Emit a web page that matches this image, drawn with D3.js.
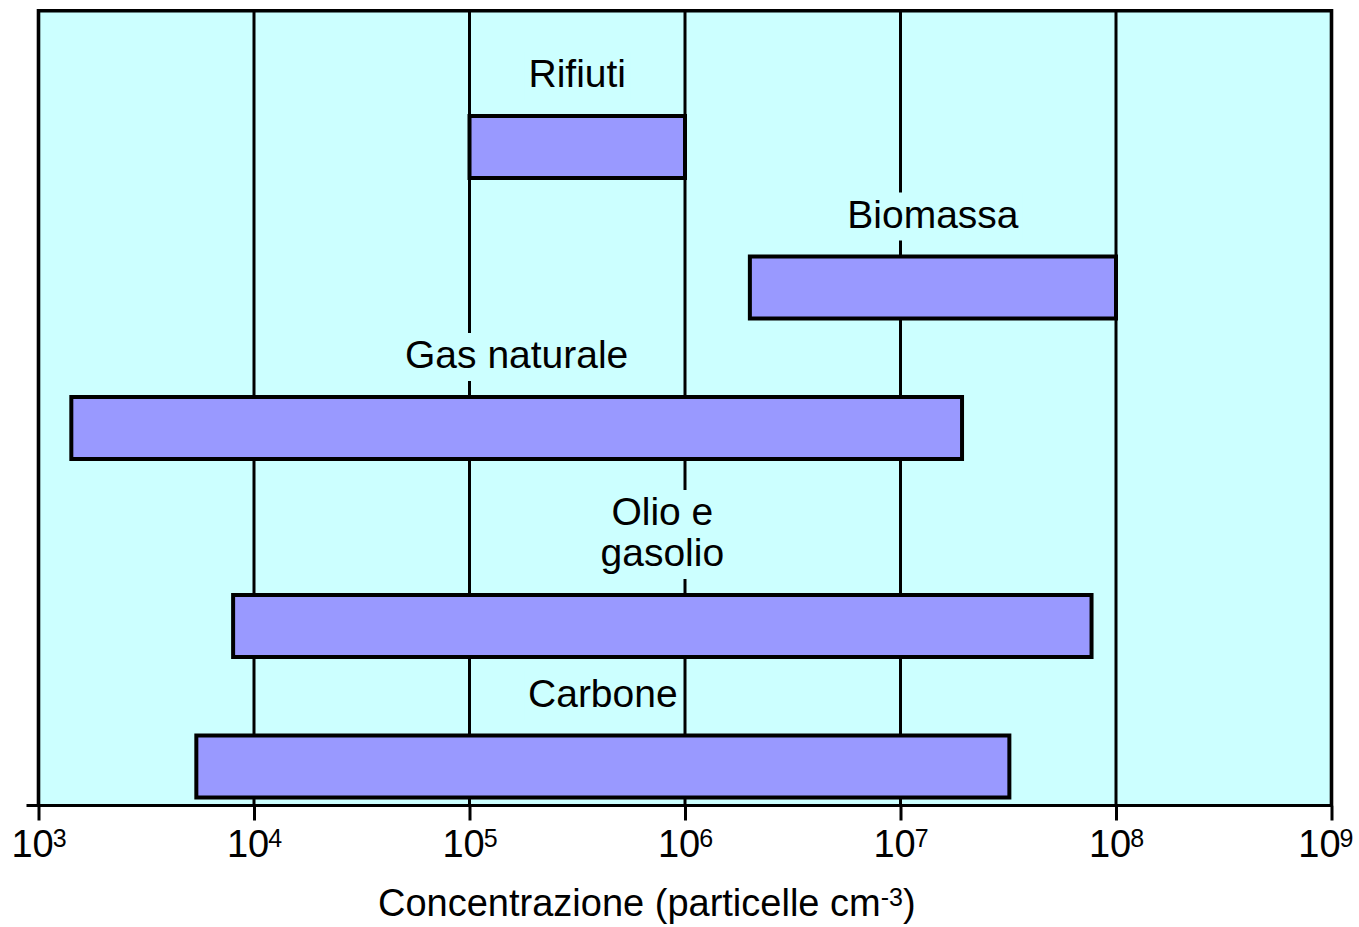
<!doctype html>
<html>

<head>
    <meta charset="utf-8">
    <title>Concentrazione particelle</title>
    <script type="text/javascript" src="https://cdn.jsdelivr.net/npm/d3@7/dist/d3.min.js"></script>
    <style type="text/css">
        html,
        body {
            margin: 0;
            padding: 0;
            background: #ffffff;
        }

        #chart svg {
            display: block;
            font-family: "Liberation Sans", Arial, sans-serif;
        }
    </style>
</head>

<body>
    <div id="chart"></div>

    <script type="text/javascript">
        // data (particles per cm3)
        var categories = ["Rifiuti", "Biomassa", "Gas naturale", "Olio e\ngasolio", "Carbone"]
        var rangeMin = [1e5, 2.0e6, 1.42e3, 8.0e3, 5.4e3]
        var rangeMax = [1e6, 1e8, 1.93e7, 7.7e7, 3.2e7]
        var tickExponents = [3, 4, 5, 6, 7, 8, 9]
        var axisTitle = "Concentrazione (particelle cm"
        var axisTitleSup = "-3"

        var width = 1359,
            height = 927
        var plot = { left: 38.5, right: 1331.5, top: 10.8, bottom: 805.5 }

        var svg = d3.select("#chart")
            .append("svg")
            .attr("width", width)
            .attr("height", height)

        var x = d3.scaleLog()
            .domain([Math.pow(10, tickExponents[0]), Math.pow(10, tickExponents[tickExponents.length - 1])])
            .range([plot.left, plot.right])

        // rows: bars stack from the top, a row with a taller label gets more room
        var barH = 62
        var acc = 116
        var rows = categories.map(function (c, i) {
            var lines = c.split("\n")
            if (i > 0) acc += 83 + 57.5 * lines.length
            return { name: c, lines: lines, lo: rangeMin[i], hi: rangeMax[i], top: acc }
        })

        // plot background
        svg.append("rect")
            .attr("x", plot.left)
            .attr("y", plot.top)
            .attr("width", plot.right - plot.left)
            .attr("height", plot.bottom - plot.top)
            .style("fill", "#ccffff")

        // vertical grid lines at each decade
        svg.append("g")
            .selectAll("line")
            .data(tickExponents.slice(1, -1))
            .join("line")
            .attr("x1", function (d) { return x(Math.pow(10, d)) })
            .attr("x2", function (d) { return x(Math.pow(10, d)) })
            .attr("y1", plot.top)
            .attr("y2", plot.bottom)
            .style("stroke", "#000")
            .style("stroke-width", 3)

        // labels with a background that hides the grid lines
        var labels = svg.append("g")
            .selectAll("g")
            .data(rows)
            .join("g")

        labels.each(function (d) {
            var g = d3.select(this)
            var cx = (x(d.lo) + x(d.hi)) / 2
            var lastBase = d.top - 2 - 27
            var bg = g.append("rect").style("fill", "#ccffff")
            var t = g.append("text")
                .attr("text-anchor", "middle")
                .style("font-size", "39px")
                .style("fill", "#000")
            d.lines.forEach(function (line, k) {
                t.append("tspan")
                    .attr("x", cx)
                    .attr("y", lastBase - (d.lines.length - 1 - k) * 41)
                    .text(line)
            })
            var bb = t.node().getBBox()
            bg.attr("x", bb.x - 4)
                .attr("y", bb.y)
                .attr("width", bb.width + 8)
                .attr("height", bb.height + 5)
        })

        // range bars
        svg.append("g")
            .selectAll("rect")
            .data(rows)
            .join("rect")
            .attr("x", function (d) { return x(d.lo) })
            .attr("y", function (d) { return d.top })
            .attr("width", function (d) { return x(d.hi) - x(d.lo) })
            .attr("height", barH)
            .style("fill", "#9999ff")
            .style("stroke", "#000")
            .style("stroke-width", 4)

        // frame (left, top, right)
        svg.append("path")
            .attr("d", "M" + plot.left + "," + plot.bottom + "V" + plot.top + "H" + plot.right + "V" + plot.bottom)
            .style("fill", "none")
            .style("stroke", "#000")
            .style("stroke-width", 3.6)

        // x axis
        var axis = d3.axisBottom(x)
            .tickValues(tickExponents.map(function (e) { return Math.pow(10, e) }))
            .tickSize(15)
            .tickFormat("")

        var gx = svg.append("g")
            .attr("transform", "translate(0," + plot.bottom + ")")
            .call(axis)

        gx.select(".domain").remove()
        gx.selectAll(".tick line")
            .style("stroke", "#000")
            .style("stroke-width", 3)

        gx.append("line")
            .attr("x1", plot.left - 12)
            .attr("x2", plot.right + 1.5)
            .attr("y1", 0)
            .attr("y2", 0)
            .style("stroke", "#000")
            .style("stroke-width", 3)

        gx.selectAll(".tick text")
            .attr("y", 51.5)
            .attr("dy", 0)
            .attr("font-family", null)
            .attr("font-size", null)
            .style("font-size", "38px")
            .style("fill", "#000")
            .each(function (d) {
                var t = d3.select(this)
                t.append("tspan").text("10")
                t.append("tspan")
                    .attr("dy", -10)
                    .attr("dx", -1)
                    .style("font-size", "25px")
                    .text(Math.round(Math.log10(d)))
                // keep the last label inside the page
                var bb = this.getBBox()
                var tx = d3.select(this.parentNode).datum()
                var over = x(tx) + bb.x + bb.width - (width - 6)
                if (over > 0) t.attr("x", -over)
            })

        // axis title
        var title = svg.append("text")
            .attr("x", 378)
            .attr("y", 916)
            .style("font-size", "38px")
            .style("fill", "#000")
        title.append("tspan").text(axisTitle)
        title.append("tspan")
            .attr("dy", -10)
            .style("font-size", "25px")
            .text(axisTitleSup)
        title.append("tspan")
            .attr("dy", 10)
            .text(")")
    </script>
</body>

</html>
